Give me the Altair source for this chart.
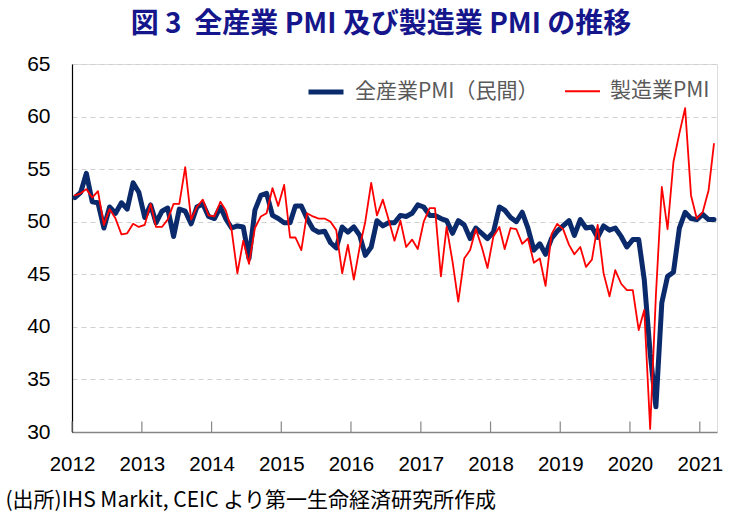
import altair as alt
import pandas as pd

# ---- data (monthly, Jan 2012 – Mar 2021) ----
start_month = "2012-01"
n_months = 111
all_industry = [
    52.3, 52.8, 54.6, 51.9, 51.8, 49.4, 51.4, 50.8, 51.8, 51.2, 53.7, 52.8,
    50.4, 51.6, 49.9, 51.0, 51.3, 48.6, 51.2, 51.0, 49.8, 51.4, 51.7, 50.5,
    50.3, 51.4, 50.3, 49.4, 49.6, 49.5, 46.5, 51.1, 52.5, 52.7, 50.6, 50.3,
    49.9, 49.9, 51.5, 51.5, 50.3, 49.3, 49.0, 49.1, 48.0, 47.5, 49.5, 49.0,
    49.5, 48.7, 46.8, 47.6, 50.1, 49.6, 49.9, 49.9, 50.6, 50.5, 50.8, 51.6,
    51.4, 50.6, 50.6, 50.3, 50.1, 48.9, 50.1, 49.7, 48.4, 49.4, 48.9, 48.4,
    49.0, 51.4, 51.1, 50.4, 50.0, 50.9, 49.4, 47.3, 47.9, 46.9, 48.4, 49.1,
    49.6, 50.1, 48.7, 50.2, 49.4, 49.5, 48.5, 49.6, 49.2, 49.4, 48.6, 47.6,
    48.3, 48.3, 44.5, 37.5, 32.4, 42.3, 44.8, 45.2, 49.4, 50.9, 50.3, 50.2,
    50.7, 50.2, 50.2,
]
manufacturing = [
    52.5, 52.7, 53.1, 52.3, 52.9, 49.7, 51.2, 50.3, 48.8, 48.9, 49.8, 49.5,
    49.7, 51.7, 49.5, 49.5, 50.2, 51.7, 51.7, 55.2, 50.2, 51.4, 52.1, 50.6,
    50.5, 51.9, 51.1, 49.2, 45.1, 48.2, 46.0, 49.4, 50.5, 50.8, 53.2, 51.5,
    53.5, 48.5, 48.5, 47.3, 50.8, 50.5, 50.3, 50.3, 50.0, 49.2, 45.1, 47.8,
    44.5, 47.6, 50.0, 53.7, 50.6, 52.1, 50.2, 48.2, 50.1, 47.6, 48.3, 47.4,
    50.0, 51.3, 51.3, 44.8, 49.5, 46.2, 42.4, 46.5, 47.3, 49.3, 47.6, 45.6,
    48.6, 49.5, 47.4, 49.4, 49.3, 47.9, 48.4, 46.1, 46.5, 43.9, 48.8, 49.8,
    49.3, 47.8, 46.9, 47.6, 45.7, 46.4, 49.7, 45.1, 42.9, 45.4, 44.1, 43.5,
    43.5, 39.7, 41.6, 30.3, 43.0, 53.3, 49.3, 55.7, 58.4, 60.8, 52.5, 50.3,
    50.9, 53.0, 57.4,
]
series_names = ["全産業PMI（民間）", "製造業PMI"]
years = list(range(2012, 2022))
y_ticks = [30, 35, 40, 45, 50, 55, 60, 65]

title_text = ["図\u00a03\u00a0\u00a0全産業\u00a0PMI\u00a0及び製造業\u00a0PMI\u00a0の推移"]
source_text = "(出所)IHS Markit, CEIC より第一生命経済研究所作成"

# ---- build table ----
months = pd.date_range(start_month, periods=n_months, freq="MS")
dates = [m.strftime("%Y-%m-16T00:00:00") for m in months]
rows = []
for d, v in zip(dates, all_industry):
    rows.append({"date": d, "value": v, "series": series_names[0]})
for d, v in zip(dates, manufacturing):
    rows.append({"date": d, "value": v, "series": series_names[1]})
df = pd.DataFrame(rows)

tick_df = pd.DataFrame({
    "date": [f"{y}-01-01T00:00:00" for y in years],
    "y0": [30] * len(years),
    "y1": [31] * len(years),
})
title_df = pd.DataFrame({"t": title_text})

x_domain = [alt.DateTime(year=2012, month=1, date=1),
            alt.DateTime(year=2021, month=4, date=1)]
year_vals = [alt.DateTime(year=y, month=1, date=1) for y in years]

narrow = "Liberation Sans Narrow, Arial Narrow, Liberation Sans, sans-serif"
cjk = "Noto Sans CJK JP"

x_scale = alt.Scale(domain=x_domain, nice=False)
y_scale = alt.Scale(domain=[30, 65], nice=False, zero=False)

legend_kw = dict(title=None, orient="none", legendX=234, legendY=8,
                 direction="horizontal", symbolType="stroke",
                 symbolSize=1225, labelFont=cjk, labelFontSize=21,
                 labelColor="#595959", labelOffset=9, labelLimit=400,
                 columnPadding=22)

lines = alt.Chart(df).mark_line(strokeJoin="round", strokeCap="round").encode(
    x=alt.X("date:T", scale=x_scale,
            axis=alt.Axis(values=year_vals, format="%Y", ticks=False, grid=False,
                          domainColor="#868686", domainWidth=1.5,
                          labelFont=narrow, labelFontSize=20.5, labelColor="#000000",
                          labelPadding=22, labelFlush=False,
                          title=source_text, titleFont=cjk, titleFontSize=21,
                          titleFontWeight="normal", titleColor="#000000",
                          titleAnchor="start", titleAlign="left",
                          titleBaseline="middle", titleX=-67, titleY=68)),
    y=alt.Y("value:Q", scale=y_scale,
            axis=alt.Axis(values=y_ticks, ticks=False, domainColor="#000000",
                          domainWidth=1.2, grid=True, gridColor="#d0d0d0",
                          gridDash=[5, 4], gridWidth=1,
                          labelFont=narrow, labelFontSize=21, labelColor="#000000",
                          labelPadding=22, title=None)),
    color=alt.Color("series:N",
                    scale=alt.Scale(domain=series_names, range=["#0b2a6b", "#ff0000"]),
                    legend=alt.Legend(**legend_kw)),
    strokeWidth=alt.StrokeWidth("series:N",
                                scale=alt.Scale(domain=series_names, range=[5, 1.8]),
                                legend=alt.Legend(**legend_kw)),
    order=alt.Order("series:N"),
)

ticks = alt.Chart(tick_df).mark_rule(color="#868686", strokeWidth=1.2).encode(
    x=alt.X("date:T", scale=x_scale),
    y=alt.Y("y0:Q", scale=y_scale),
    y2="y1:Q",
)

title = alt.Chart(title_df).mark_text(
    font=cjk, fontSize=28, fontWeight="bold", color="#16168c",
    align="center", baseline="middle",
).encode(x=alt.value(309), y=alt.value(-39), text="t:N")

chart = alt.layer(ticks, lines, title).properties(
    width=645,
    height=368,
    padding={"left": 72, "top": 64, "right": 21, "bottom": 94},
    autosize=alt.AutoSizeParams(type="none"),
).configure_view(stroke=None).configure(background="white")

chart.save("out.html", embed_options={"renderer": "svg", "actions": False})
